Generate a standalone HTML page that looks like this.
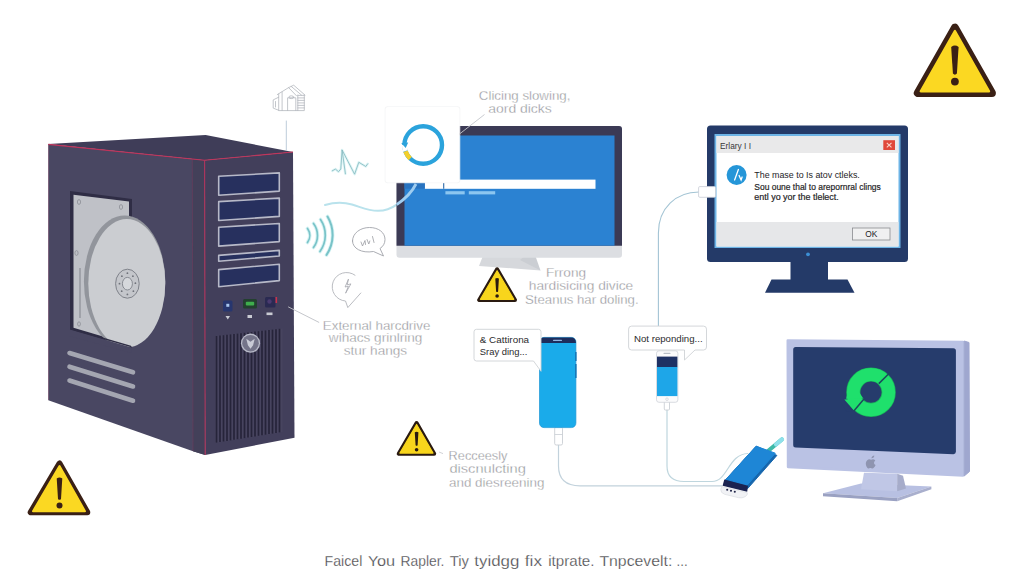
<!DOCTYPE html>
<html lang="en">
<head>
<meta charset="utf-8">
<title>External hard drive problems</title>
<style>
html,body{margin:0;padding:0;background:#fff;}
body{width:1024px;height:585px;overflow:hidden;position:relative;font-family:"Liberation Sans",sans-serif;}
svg{position:absolute;left:0;top:0;display:block;}
text{font-family:"Liberation Sans",sans-serif;}

</style>
</head>
<body>
<svg width="1024" height="585" viewBox="0 0 1024 585">
<defs>
  <linearGradient id="sideG" x1="0" y1="0" x2="1" y2="0">
    <stop offset="0" stop-color="#4a4864"/><stop offset="1" stop-color="#46445f"/>
  </linearGradient>
  <filter id="soft" x="-5%" y="-5%" width="110%" height="110%"><feGaussianBlur stdDeviation="0.5"/></filter>
</defs>

<!-- ================= TOWER ================= -->
<g id="tower">
  <!-- top face -->
  <polygon points="48.300,144 205.600,135 293,152 204.400,160.300" fill="#3f3d58"/>
  <!-- side face -->
  <polygon points="48.300,144 204.400,160.300 205.200,455 193,451.200 48.300,400.300" fill="#494762"/>
  <!-- front face -->
  <polygon points="204.400,160.300 293,152 294.500,437.700 205.200,455" fill="#423f5b"/>
  <!-- bevel -->
  <polygon points="192.300,159 204.400,160.300 205.200,455 193,451.200" fill="#434059"/>
  <line x1="192.300" y1="159" x2="193" y2="451" stroke="#7a3a5c" stroke-width="0.700" opacity="0.700"/>
  <!-- red edges -->
  <polyline points="48.300,144.400 204.400,160.300 293,152" fill="none" stroke="#c2335a" stroke-width="1.100"/>
  <line x1="204.600" y1="160.300" x2="205.200" y2="455" stroke="#b0345c" stroke-width="1.100"/>
  <line x1="48.600" y1="144.400" x2="48.600" y2="400" stroke="#7a3a5c" stroke-width="0.700" opacity="0.600"/>

  <!-- HDD window -->
  <polygon points="70,191 132,199 132,347.600 70,329.500" fill="#2f2d45"/>
  <polygon points="73.500,194.800 129,201.500 129,344.300 73.500,327.700" fill="#bfc1c7"/>
  <!-- platter -->
  <ellipse cx="124.600" cy="281.500" rx="40.700" ry="66" fill="#92959c"/>
  <ellipse cx="126.800" cy="283.300" rx="38.500" ry="64.200" fill="#cbcdd1"/>
  <ellipse cx="127.400" cy="283.700" rx="11.800" ry="14.500" fill="#c4c6cb" stroke="#7f828a" stroke-width="1"/>
  <ellipse cx="127.400" cy="283.700" rx="5" ry="6.300" fill="#d6d8dc" stroke="#7f828a" stroke-width="0.900"/>
  <g fill="#6f727a" transform="translate(0.900,2.200)">
    <circle cx="126.500" cy="271" r="0.900"/><circle cx="132" cy="274" r="0.900"/><circle cx="134.500" cy="281" r="0.900"/>
    <circle cx="132.500" cy="289" r="0.900"/><circle cx="126.500" cy="292.200" r="0.900"/><circle cx="120.800" cy="289" r="0.900"/>
    <circle cx="118.600" cy="281.500" r="0.900"/><circle cx="121" cy="274" r="0.900"/>
  </g>
  <!-- clip disk bottom-left by window edge -->
  <polygon points="69,329.200 131.500,347.500 131.500,353 69,336" fill="#494762"/>
  <polygon points="70,328 131,345.800 132,347.600 70,329.500" fill="#2f2d45"/>
  <!-- screws -->
  <ellipse cx="79" cy="202" rx="1.600" ry="2.400" fill="none" stroke="#8b8e95" stroke-width="0.800"/>
  <ellipse cx="121" cy="207" rx="1.600" ry="2.400" fill="none" stroke="#8b8e95" stroke-width="0.800"/>
  <ellipse cx="76.500" cy="253" rx="1.600" ry="2.400" fill="none" stroke="#8b8e95" stroke-width="0.800"/>
  <ellipse cx="79" cy="324" rx="1.400" ry="2.200" fill="none" stroke="#8b8e95" stroke-width="0.800"/>
  <line x1="80" y1="268" x2="80" y2="318" stroke="#8b8e95" stroke-width="1.200"/>

  <!-- side vents -->
  <g stroke="#a4a6b1" stroke-width="4.600" stroke-linecap="round">
    <line x1="69.500" y1="353" x2="133" y2="372.300"/>
    <line x1="69.500" y1="366.700" x2="133" y2="386.500"/>
    <line x1="69.500" y1="380.500" x2="133" y2="400.700"/>
  </g>

  <!-- drive bays -->
  <g fill="#27305e" stroke="#b7b9c8" stroke-width="1.600" stroke-linejoin="round">
    <polygon points="218.700,176.300 279.300,172.900 279.300,191.100 218.700,195.300"/>
    <polygon points="218.700,201.600 279.300,198.100 279.300,216.400 218.700,220.500"/>
    <polygon points="218.700,227.200 279.300,223.500 279.300,241.600 218.700,246.100"/>
    <polygon points="218.700,255.400 279.300,250.400 279.300,256 218.700,261.200"/>
    <polygon points="218.700,269.600 279.300,264.200 279.300,280.600 218.700,286.700"/>
  </g>
  <!-- buttons -->
  <rect x="223" y="300.500" width="9.500" height="11" rx="1.500" fill="#27366f"/>
  <rect x="226.300" y="303.800" width="3" height="3" fill="#a9c6ee"/>
  <rect x="243" y="299" width="14" height="9.5" rx="1.5" fill="#23402f"/>
  <rect x="245.800" y="301.800" width="8.400" height="3.800" rx="1" fill="#3fae4d"/>
  <rect x="265" y="297" width="10.5" height="10.5" rx="1.5" fill="#2a2a52"/>
  <circle cx="269.5" cy="301.5" r="2.2" fill="#4a3a70"/>
  <rect x="275.5" y="297" width="1.6" height="6" fill="#c8324e"/>
  <polygon points="225.5,316 230,316 227.8,319.5" fill="#c9cbd3"/>
  <rect x="247.5" y="315" width="4.5" height="3" fill="#c9cbd3"/>
  <rect x="266.5" y="312.5" width="6" height="2.6" fill="#c9cbd3"/>
  <!-- front vent -->
  <polygon points="215,336 282.6,328.4 282.6,432 215,443" fill="#47445f"/>
  <g stroke="#26243a" stroke-width="1.7">
    <line x1="216.5" y1="336" x2="216.5" y2="442.6"/>
    <line x1="220" y1="335.6" x2="220" y2="442"/>
    <line x1="223.5" y1="335.2" x2="223.5" y2="441.5"/>
    <line x1="227" y1="334.8" x2="227" y2="441"/>
    <line x1="230.5" y1="334.4" x2="230.5" y2="440.4"/>
    <line x1="234" y1="334" x2="234" y2="439.8"/>
    <line x1="237.5" y1="333.6" x2="237.5" y2="439.2"/>
    <line x1="241" y1="333.2" x2="241" y2="438.7"/>
    <line x1="244.5" y1="332.8" x2="244.5" y2="438.1"/>
    <line x1="248" y1="332.4" x2="248" y2="437.5"/>
    <line x1="251.500" y1="332" x2="251.5" y2="437"/>
    <line x1="255" y1="331.6" x2="255" y2="436.4"/>
    <line x1="258.5" y1="331.2" x2="258.5" y2="435.8"/>
    <line x1="262" y1="330.8" x2="262" y2="435.3"/>
    <line x1="265.5" y1="330.4" x2="265.5" y2="434.7"/>
    <line x1="269" y1="330" x2="269" y2="434.1"/>
    <line x1="272.5" y1="329.6" x2="272.5" y2="433.6"/>
    <line x1="276" y1="329.2" x2="276" y2="433"/>
    <line x1="279.5" y1="328.8" x2="279.5" y2="432.4"/>
  </g>
  <!-- logo -->
  <circle cx="250.500" cy="343.200" r="9.600" fill="#b9bbc9"/>
  <circle cx="250.500" cy="343.200" r="8.300" fill="#747489"/>
  <path d="M246.300,338.700 l4.200,3 l4.200,-3 l-1.600,6.500 l-2.600,3.500 l-2.600,-3.500z" fill="#c9cbd6"/>
</g>

<!-- ================= ICONS NEAR TOWER ================= -->
<g id="deco" fill="none" stroke-linecap="round" stroke-linejoin="round">
  <!-- house icon -->
  <g stroke="#b4b7be" stroke-width="0.800">
    <path d="M278.700,97.200 L273.200,99.900 L273.200,108.100 L278.700,110.300"/>
    <path d="M277.300,94.600 L288.600,87.600 L296.500,95.800"/>
    <path d="M288.600,87.600 L293.700,85.200 L305,95.100"/>
    <path d="M291.200,86.400 L301.500,95.100"/>
    <path d="M278.700,94 V110.600 H304.300 V95.100"/>
    <path d="M282.100,92 V110.600"/>
    <path d="M287.600,110.600 V97.800 H295.800 V110.600"/>
    <path d="M297.800,95.100 V110.600"/>
    <path d="M297.800,95.400 H304.300 M297.800,97.900 H304.300 M297.800,100.400 H304.300 M297.800,102.900 H304.300 M297.800,105.400 H304.300 M297.800,107.900 H304.300"/>
    <ellipse cx="291.300" cy="97.200" rx="2.400" ry="1.400"/>
    <path d="M275.500,101.500 v5.500"/>
  </g>
  <line x1="286.300" y1="121" x2="286.300" y2="150" stroke="#b5c6d6" stroke-width="0.9"/>
  <!-- pulse -->
  <path d="M332.300,170.800 L335.400,169.100 L338.500,171.700 L340.800,169 L342.100,150 L345.400,173.800 M342.100,150 L354.600,174.200 L358.800,162.300 L365.800,166.500 L367.700,163.800" stroke="#c9eef0" stroke-width="2.600" opacity="0.600"/>
  <path d="M332.300,170.800 L335.400,169.100 L338.500,171.700 L340.800,169 L342.100,150 L345.400,173.800 M342.100,150 L354.600,174.200 L358.800,162.300 L365.800,166.500 L367.700,163.800" stroke="#86bac1" stroke-width="0.850"/>
  <!-- sound waves -->
  <g stroke="#c5eef0" stroke-width="3.600" opacity="0.700">
    <path d="M307.500,228.500 a12,12 0 0 1 0,14"/>
    <path d="M313.500,223.500 a20,20 0 0 1 0,24"/>
    <path d="M320.500,219.500 a28,28 0 0 1 -0.500,32"/>
    <path d="M327.500,216.500 a36,36 0 0 1 -1,38.500"/>
  </g>
  <g stroke="#79c3c8" stroke-width="1.700">
    <path d="M307.500,228.500 a12,12 0 0 1 0,14"/>
    <path d="M313.500,223.500 a20,20 0 0 1 0,24"/>
    <path d="M320.500,219.500 a28,28 0 0 1 -0.500,32"/>
    <path d="M327.500,216.500 a36,36 0 0 1 -1,38.500" stroke-width="2"/>
  </g>
  <!-- wavy line -->
  <path d="M325,205 C335,202 345,202.500 352,204.500 C362,207.500 368,210.800 378,210.800 C386,210.800 392,208 396.700,204.600" stroke="#b9e2ec" stroke-width="2.100"/>
  <!-- speech bubble icon -->
  <path d="M352.500,241 c0,-8 8,-13.500 17,-13.500 c9,0 15.500,5 15.500,12 c0,4 -2,7 -5,9 l3.500,7.500 l-10,-4.500 c-12,2 -21,-3 -21,-10.500z" stroke="#a2a4aa" stroke-width="0.900"/>
  <path d="M361,242 l1.500,4 l2.500,-5.500 l0.500,4 M367,239.500 l1.800,4.500 l1,-3 M372.500,236.500 l1.500,6" stroke="#9a9ca2" stroke-width="0.800"/>
  <!-- lightning bubble -->
  <path d="M355,275.200 A14.300,14.300 0 1 0 345.500,301 L347.800,307.600 L360.800,293" stroke="#b2b4ba" stroke-width="0.900"/>
  <path d="M348.300,279.500 l-3.200,7.500 l3.300,-0.800 l-2.800,7 l5.300,-9.300 l-3.300,0.800 z" stroke="#a4a6ad" stroke-width="0.800"/>
  <!-- pointer line to label -->
  <line x1="288.500" y1="307" x2="318.800" y2="322.300" stroke="#bdbfc5" stroke-width="0.900"/>
</g>

<!-- ================= CENTER MONITOR ================= -->
<g id="mon1">
  <polygon points="482.500,257 531,257 540.500,270.500 479,266" fill="#d6d8dc"/>
  <polygon points="520,260 533,249 540.500,270.500" fill="#cbced3"/>
  <rect x="396.500" y="126" width="225.500" height="131.800" rx="3" fill="#dcdee2"/>
  <path d="M396.500,129 a3,3 0 0 1 3,-3 h219.500 a3,3 0 0 1 3,3 v116.700 h-225.500z" fill="#3b3a55"/>
  <rect x="404.500" y="135.500" width="210" height="110.200" fill="#2b82d2"/>
  <rect x="424.800" y="179.600" width="170.700" height="9.200" fill="#ffffff"/>
  <rect x="404.500" y="183" width="20.300" height="5.700" fill="#2873c0"/>
  <rect x="443" y="183" width="1.300" height="5.800" fill="#4a7fb5"/>
  <rect x="445.400" y="191.200" width="19.300" height="3.200" fill="#8cc6f0"/>
  <rect x="468.800" y="191.200" width="26.400" height="3.200" fill="#8cc6f0"/>
  <!-- wavy line over screen -->
  <path d="M396.700,204.600 C405,199 411,194 416,184" stroke="#9fcdf0" stroke-width="2.800" fill="none"/>
</g>
<!-- popup -->
<g id="popup">
  <rect x="384.700" y="106.200" width="75.600" height="77.100" rx="3" fill="#f1f2f4" opacity="0.800"/>
  <rect x="385.500" y="107" width="74" height="75.500" rx="2.500" fill="#ffffff"/>
  <g transform="translate(0.200,1.500)">
  <circle cx="423" cy="143.500" r="18.800" fill="none" stroke="#2ba3dc" stroke-width="4.400"/>
  <path d="M405.300,149.800 A18.800,18.800 0 0 0 410,157.200" fill="none" stroke="#f3cf2b" stroke-width="4.600"/>
  <path d="M404.300,143.500 A18.800,18.800 0 0 0 405.200,149.500" fill="none" stroke="#ffffff" stroke-width="5"/>
  <polygon points="401,141.500 408,141 405.500,146.500" fill="#2ba3dc"/>
  </g>
</g>
<line x1="484.500" y1="114.500" x2="459.500" y2="134" stroke="#c4c6cc" stroke-width="0.900"/>

<!-- ================= CABLES ================= -->
<g fill="none" stroke-linecap="round">
  <path d="M699,192 C676,192 658.400,208 658.400,233 V326" stroke="#a3c4d4" stroke-width="1.100"/>
  <path d="M558.500,444 V466 Q558.500,485.800 580,485.800 H722" stroke="#c2d2dc" stroke-width="1.200"/>
  <path d="M667,409 V466 Q667,481.500 684,481.500 H712 C728,481.500 728,454 748,453.500" stroke="#bfd6de" stroke-width="1.200"/>
</g>
<!-- usb plug at right monitor -->

<!-- ================= RIGHT MONITOR ================= -->
<g id="mon2">
  <rect x="790.500" y="258" width="37.500" height="23" fill="#243a68"/>
  <polygon points="771.500,279.500 847.500,279.500 854.500,292.800 765,292.800" fill="#243a68"/>
  <rect x="707" y="125.500" width="201" height="136.500" rx="3.500" fill="#243a68"/>
  <rect x="714.500" y="134" width="186" height="114" fill="#6db4e6"/>
  <rect x="716.500" y="136" width="182" height="110.500" fill="#ffffff"/>
  <rect x="716.500" y="136" width="182" height="17" fill="#e9e9ea"/>
  <rect x="716.500" y="222" width="182" height="24.500" fill="#e6e7e9"/>
  <rect x="883.300" y="140.200" width="11.700" height="9.800" fill="#e0483a"/>
  <path d="M886.800,142.800 l4.700,4.600 M891.500,142.800 l-4.700,4.600" stroke="#f8d2c8" stroke-width="1.100"/>
  <rect x="852.500" y="228" width="37.500" height="12" fill="#f0f0f1" stroke="#8a8c90" stroke-width="0.800"/>
  <circle cx="736.600" cy="175" r="10" fill="#2596d8"/>
  <path d="M738.400,169.500 l-3.800,10.500 M739.100,175.500 l2,4.500 l1,-3" stroke="#ffffff" stroke-width="1.300" fill="none" stroke-linecap="round"/>
  <circle cx="808" cy="254.300" r="1.900" fill="#3c8fd6"/>
</g>
<rect x="698.600" y="186.600" width="17" height="10.700" rx="1.200" fill="#ffffff" stroke="#c6ccd4" stroke-width="0.800"/>
<g font-size="9.200" fill="#242426" stroke="#242426" stroke-width="0.200">
  <text x="720" y="148.900" font-size="8.600" fill="#38383a" stroke="none" textLength="31" lengthAdjust="spacingAndGlyphs">Erlary I I</text>
  <text x="754.300" y="178.100" font-size="9.900" stroke="none" textLength="105.500" lengthAdjust="spacingAndGlyphs">The mase to Is atov ctleks.</text>
  <text x="754.300" y="189.600" textLength="126.500" lengthAdjust="spacingAndGlyphs">Sou oune thal to arepornral clings</text>
  <text x="754.300" y="199.800" textLength="84.500" lengthAdjust="spacingAndGlyphs">entl yo yor the tlelect.</text>
  <text x="871.300" y="236.800" font-size="8.400" text-anchor="middle" stroke="none">OK</text>
</g>

<!-- ================= PHONES ================= -->
<g id="phone1">
  <rect x="554.700" y="427" width="7.800" height="18" rx="1.500" fill="#ffffff" stroke="#c9ced4" stroke-width="0.900"/>
  <line x1="554.700" y1="434.500" x2="562.500" y2="434.500" stroke="#c9ced4" stroke-width="0.800"/>
  <rect x="539.500" y="337.400" width="36.400" height="90.200" rx="4.500" fill="#1aabea" stroke="#1c96d6" stroke-width="0.700"/>
  <path d="M539.500,343 v-1.100 a4.500,4.500 0 0 1 4.500,-4.500 h27.400 a4.500,4.500 0 0 1 4.500,4.500 v1.100z" fill="#1d2d5c"/>
  <rect x="553" y="339.800" width="9" height="1.300" rx="0.600" fill="#8fb4e0"/>
  <rect x="575" y="352" width="1.600" height="9" fill="#1778b8"/>
  <rect x="575" y="364" width="1.600" height="14" fill="#1778b8"/>
</g>
<g id="phone2">
  <rect x="664.300" y="401" width="5.200" height="9" rx="1" fill="#ffffff" stroke="#c5cad0" stroke-width="0.800"/>
  <rect x="656.500" y="350.800" width="21.400" height="51.500" rx="2.500" fill="#fbfbfc" stroke="#cfd3d9" stroke-width="0.800"/>
  <rect x="657" y="356.600" width="20.400" height="10.600" fill="#1e3164"/>
  <rect x="657" y="367" width="20.400" height="29.100" fill="#1ea6e8"/>
  <rect x="663.500" y="352.800" width="7" height="1.100" rx="0.500" fill="#b9bec6"/>
  <circle cx="667" cy="399.200" r="1.300" fill="none" stroke="#c6cad0" stroke-width="0.600"/>
</g>
<!-- bubbles -->
<g fill="#ffffff" stroke="#cfd2d6" stroke-width="0.900" stroke-linejoin="round">
  <path d="M476.500,329.300 h62 a2.500,2.500 0 0 1 2.500,2.500 v39.500 l-7.500,-10.300 h-57 a2.500,2.500 0 0 1 -2.500,-2.500 v-26.700 a2.500,2.500 0 0 1 2.500,-2.500z"/>
  <path d="M631.600,326.100 h71.900 a3,3 0 0 1 3,3 v17.900 a3,3 0 0 1 -3,3 h-8.500 l-10.500,10 v-10 h-52.900 a3,3 0 0 1 -3,-3 v-17.900 a3,3 0 0 1 3,-3z"/>
</g>
<g font-size="8.600" fill="#2b2b2d">
  <text x="479.800" y="342.700" textLength="49.300" lengthAdjust="spacingAndGlyphs">&amp; Cattirona</text>
  <text x="479.800" y="355" textLength="47.500" lengthAdjust="spacingAndGlyphs">Sray ding...</text>
  <text x="634" y="341.700" textLength="68.600" lengthAdjust="spacingAndGlyphs" font-size="9.200">Not reponding...</text>
</g>

<!-- ================= USB DEVICE ================= -->
<g id="usb">
  <line x1="768" y1="451" x2="781.800" y2="439.500" stroke="#3db9a8" stroke-width="4.200" stroke-linecap="round"/>
  <line x1="776" y1="444.300" x2="782" y2="439.300" stroke="#8fe0ea" stroke-width="4.200" stroke-linecap="round"/>
  <path d="M721.800,486.500 l25.500,6.200 q0.800,2.200 -2.200,4 q-3,1.800 -6.500,1 l-14,-3.400 q-4.200,-1.500 -3.800,-5z" fill="#f1f2f5" stroke="#d5d8de" stroke-width="0.600"/>
  <polygon points="756.200,446.200 776.900,455.400 747.700,488.500 724.600,480.800" fill="#1666ad" stroke="#1666ad" stroke-width="1" stroke-linejoin="round"/>
  <polygon points="756.200,446.200 775.300,453.200 747,485.300 726.200,479.300" fill="#1e86d6" stroke="#1e86d6" stroke-width="1" stroke-linejoin="round"/>
  <polygon points="724.300,479.500 748,485.800 747.200,491.800 722.600,485.800" fill="#1b2350"/>
  <circle cx="727.200" cy="489.800" r="1.050" fill="#22264a"/>
  <circle cx="731" cy="490.800" r="1.050" fill="#22264a"/>
  <circle cx="734.800" cy="491.800" r="1.050" fill="#22264a"/>
</g>

<!-- ================= IMAC ================= -->
<g id="imac">
  <polygon points="823,493.200 861,483.500 931.400,486.400 897.200,498.100" fill="#b8c0e2"/>
  <polygon points="823,493.200 897.200,498.100 897.200,501.200 823,496.200" fill="#9aa1c2"/>
  <polygon points="897.200,498.100 931.400,486.400 931.400,489.300 897.200,501.200" fill="#a9afcd"/>
  <polygon points="864,472.700 897.200,473.700 897.200,491.300 861,489.300" fill="#c0c7e6"/>
  <polygon points="897.200,473.700 903,475.700 906,488.400 897.200,491.300" fill="#a6acca"/>
  <polygon points="787.700,340.500 963,341.900 963,475.500 788,467" fill="#bac2e4" stroke="#bac2e4" stroke-width="2.400" stroke-linejoin="round"/>
  <polygon points="964.200,341 969,342.500 969.500,471.500 964.200,476" fill="#9fa7cf" stroke="#9fa7cf" stroke-width="1" stroke-linejoin="round"/>
  <path d="M795.700,346.900 l157.700,1.400 a2.500,2.500 0 0 1 2.500,2.500 l0,101 a2.500,2.500 0 0 1 -2.500,2.400 l-157.700,-6.600 a2.500,2.500 0 0 1 -2.500,-2.500 l0,-95.700 a2.500,2.500 0 0 1 2.500,-2.500z" fill="#263c6c"/>
  <!-- refresh -->
  <circle cx="871" cy="392.200" r="17.700" fill="none" stroke="#19b25a" stroke-width="14.200"/>
  <circle cx="871" cy="392.200" r="17.700" fill="none" stroke="#1fe06c" stroke-width="12.800"/>
  <polygon points="844.300,399.400 864.200,398.400 853.800,410.300" fill="#1fe06c"/>
  <polygon points="846,398.800 863,398 859,392 848,392" fill="#1fe06c"/>
  <line x1="889.800" y1="372.800" x2="878.800" y2="383.600" stroke="#1c4a5c" stroke-width="1.500"/>
  <line x1="864.600" y1="398.200" x2="853.600" y2="411.200" stroke="#1c4a5c" stroke-width="1.500"/>
  <polygon points="843.500,400.500 852.800,411.500 847,412 841,403" fill="#263c6c"/>
  <!-- apple -->
  <path d="M871.300,458.200 c0.500,-1.600 1.600,-2.500 3,-2.700 c0.100,1.500 -1,2.800 -3,2.700z M867.200,460.200 c1.300,-1.200 2.800,-1 3.900,-0.400 c1.300,-0.700 3,-0.800 4.200,0.600 c-1.900,1.300 -1.700,3.700 0.300,4.700 c-0.900,2.200 -2.300,3.400 -3.200,3.400 c-0.800,0 -1.100,-0.500 -2,-0.500 c-0.900,0 -1.200,0.500 -2,0.500 c-1.600,-0.200 -4.200,-5.500 -1.200,-8.300z" fill="#8e94b0"/>
</g>

<!-- ================= WARNING SIGNS ================= -->
<g stroke-linejoin="round">
  <polygon points="954.900,27.600 917.800,93 991.900,93" fill="#3a2015" stroke="#3a2015" stroke-width="8"/>
  <polygon points="954.900,31 920.800,91.300 989,91.300" fill="#fbd822" stroke="#fbd822" stroke-width="2.400"/>
  <path d="M951.200,47 q3.700,-2.800 7.400,0 l-1.700,26.500 q-2,2.300 -4,0z" fill="#3a2015"/>
  <circle cx="954.900" cy="81.600" r="3.900" fill="#3a2015"/>

  <polygon points="59.500,463.500 30.700,512.300 87.300,512.300" fill="#3a2015" stroke="#3a2015" stroke-width="6"/>
  <polygon points="59.500,466 33,511.200 85,511.200" fill="#fbd822" stroke="#fbd822" stroke-width="2"/>
  <path d="M56.700,478.500 q2.800,-2.100 5.600,0 l-1.300,20.500 q-1.500,1.700 -3,0z" fill="#3a2015"/>
  <circle cx="59.500" cy="505.500" r="3" fill="#3a2015"/>

  <polygon points="497.100,269.300 479.200,300 515,300" fill="#2a1a10" stroke="#2a1a10" stroke-width="4"/>
  <polygon points="497.100,270.700 480.400,299.300 513.800,299.300" fill="#f8d51c" stroke="#f8d51c" stroke-width="1.200"/>
  <path d="M495.300,278.500 q1.800,-1.200 3.600,0 l-0.800,13 q-1,1 -2,0z" fill="#2a1a10"/>
  <circle cx="497.100" cy="296" r="1.800" fill="#2a1a10"/>

  <polygon points="416.600,423.100 398.700,453.800 434.200,453.800" fill="#2a1a10" stroke="#2a1a10" stroke-width="4"/>
  <polygon points="416.600,424.500 399.900,453.100 433,453.100" fill="#f8d51c" stroke="#f8d51c" stroke-width="1.200"/>
  <path d="M414.800,432.300 q1.800,-1.200 3.600,0 l-0.800,13 q-1,1 -2,0z" fill="#2a1a10"/>
  <circle cx="416.600" cy="449.800" r="1.800" fill="#2a1a10"/>
</g>
<path d="M439,452 l4,1.600" stroke="#c5c7cc" stroke-width="0.800"/>

<!-- ================= LABEL TEXT ================= -->
<g class="lbl" fill="#88898e" font-size="13" stroke="#ffffff" stroke-width="0.350">
  <text x="524.600" y="99.500" text-anchor="middle" textLength="91.500" lengthAdjust="spacingAndGlyphs">Clicing slowing,</text>
  <text x="520" y="112.800" text-anchor="middle" textLength="63.500" lengthAdjust="spacingAndGlyphs">aord dicks</text>

  <text x="376.600" y="329.800" text-anchor="middle" textLength="107.500" lengthAdjust="spacingAndGlyphs">External harcdrive</text>
  <text x="375.600" y="342.400" text-anchor="middle" textLength="93.500" lengthAdjust="spacingAndGlyphs">wihacs grinlring</text>
  <text x="375.400" y="354.700" text-anchor="middle" textLength="63.500" lengthAdjust="spacingAndGlyphs">stur hangs</text>

  <text x="566" y="276.800" text-anchor="middle" textLength="40" lengthAdjust="spacingAndGlyphs">Frrong</text>
  <text x="581" y="290.400" text-anchor="middle" textLength="104.500" lengthAdjust="spacingAndGlyphs">hardisicing divice</text>
  <text x="581.800" y="303.600" text-anchor="middle" textLength="113.500" lengthAdjust="spacingAndGlyphs">Steanus har doling.</text>

  <text x="448.600" y="460" textLength="58.800" lengthAdjust="spacingAndGlyphs">Recceesly</text>
  <text x="449.400" y="473.200" textLength="76.500" lengthAdjust="spacingAndGlyphs">discnulcting</text>
  <text x="449" y="486.800" textLength="95.400" lengthAdjust="spacingAndGlyphs">and diesreening</text>
</g>
<g font-size="15.500" fill="#47474a" stroke="#ffffff" stroke-width="0.250">
  <text x="324.6" y="566" textLength="37.7" lengthAdjust="spacingAndGlyphs">Faicel</text>
  <text x="367.7" y="566" textLength="27.5" lengthAdjust="spacingAndGlyphs">You</text>
  <text x="400.5" y="566" textLength="43.9" lengthAdjust="spacingAndGlyphs">Rapler.</text>
  <text x="449.7" y="566" textLength="19.3" lengthAdjust="spacingAndGlyphs">Tiy</text>
  <text x="474.3" y="566" textLength="45.1" lengthAdjust="spacingAndGlyphs">tyidgg</text>
  <text x="524.8" y="566" textLength="17.2" lengthAdjust="spacingAndGlyphs">fix</text>
  <text x="548.2" y="566" textLength="46.3" lengthAdjust="spacingAndGlyphs">itprate.</text>
  <text x="599.4" y="566" textLength="73.0" lengthAdjust="spacingAndGlyphs">Tnpcevelt:</text>
  <text x="676.5" y="566" textLength="11.1" lengthAdjust="spacingAndGlyphs">...</text>
</g>
</svg>
</body>
</html>
